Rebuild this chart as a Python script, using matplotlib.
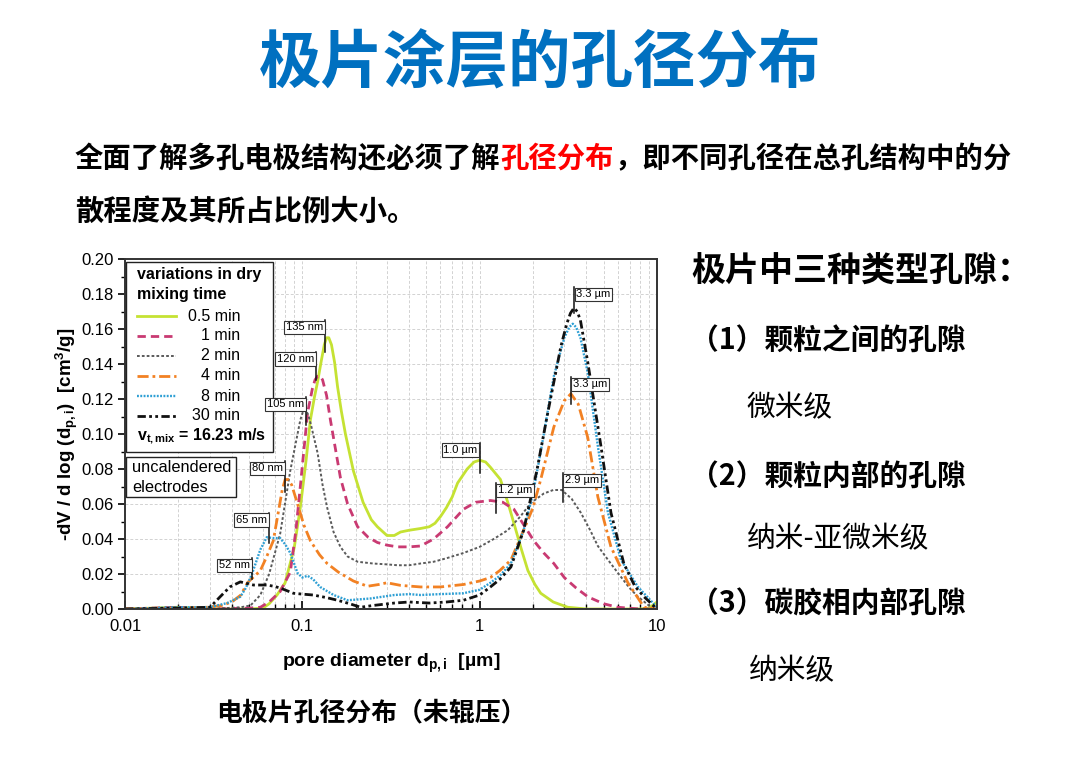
import matplotlib
matplotlib.use("Agg")
import matplotlib.pyplot as plt
from matplotlib.lines import Line2D
from matplotlib.patches import Rectangle
from matplotlib.ticker import LogLocator, MultipleLocator, FuncFormatter

plt.rcParams['font.family'] = ['Liberation Sans', 'DejaVu Sans']
plt.rcParams['mathtext.fontset'] = 'custom'
plt.rcParams['mathtext.rm'] = 'Liberation Sans'
plt.rcParams['mathtext.it'] = 'Liberation Sans:italic'
plt.rcParams['mathtext.bf'] = 'Liberation Sans:bold'
CJK = ['Noto Sans CJK SC', 'DejaVu Sans']

# ---------------- data (pore diameter in µm, -dV/dlog(d) in cm3/g) ----------------
x_05 = [0.01, 0.02, 0.03, 0.05, 0.06, 0.065, 0.072, 0.08, 0.09, 0.0974, 0.105, 0.111, 0.117,
        0.122, 0.128, 0.133, 0.137, 0.141, 0.146, 0.152, 0.158, 0.166, 0.175, 0.194, 0.22,
        0.245, 0.265, 0.30, 0.33, 0.358, 0.40, 0.464, 0.52, 0.56, 0.603, 0.65, 0.70, 0.751,
        0.85, 0.93, 1.0, 1.08, 1.15, 1.31, 1.45, 1.56, 1.72, 1.87, 2.05, 2.21, 2.6, 3.14, 4.0,
        6.0, 8.0, 9.0, 10.0]
y_05 = [0, 0.001, 0, 0, 0.0005, 0.003, 0.008, 0.015, 0.035, 0.058, 0.085, 0.108, 0.121,
        0.130, 0.142, 0.151, 0.155, 0.155, 0.151, 0.141, 0.127, 0.113, 0.100, 0.079, 0.061,
        0.051, 0.047, 0.042, 0.042, 0.044, 0.045, 0.046, 0.047, 0.049, 0.053, 0.058, 0.064,
        0.072, 0.080, 0.084, 0.085, 0.084, 0.081, 0.074, 0.060, 0.049, 0.034, 0.022, 0.014,
        0.009, 0.004, 0.001, 0, 0, 0, 0.0005, 0.004]

x_1 = [0.01, 0.02, 0.03, 0.05, 0.058, 0.065, 0.075, 0.0855, 0.092, 0.0974, 0.103, 0.107, 0.114,
       0.118, 0.122, 0.126, 0.13, 0.137, 0.144, 0.154, 0.164, 0.18, 0.205, 0.235, 0.265, 0.30,
       0.344, 0.40, 0.464, 0.55, 0.659, 0.81, 0.95, 1.15, 1.35, 1.56, 1.8, 2.02, 2.3, 2.62,
       3.0, 3.5, 4.07, 5.0, 6.0, 8.0, 10.0]
y_1 = [0, 0.001, 0, 0.0005, 0.001, 0.004, 0.010, 0.021, 0.045, 0.070, 0.095, 0.112, 0.126,
       0.131, 0.133, 0.133, 0.131, 0.122, 0.108, 0.091, 0.075, 0.060, 0.047, 0.041, 0.038,
       0.0365, 0.0355, 0.0355, 0.036, 0.040, 0.047, 0.057, 0.061, 0.062, 0.061, 0.057, 0.047,
       0.039, 0.032, 0.026, 0.018, 0.012, 0.007, 0.003, 0.001, 0, 0]

x_2 = [0.01, 0.02, 0.03, 0.045, 0.051, 0.058, 0.065, 0.075, 0.0855, 0.0974, 0.101, 0.104, 0.108,
       0.112, 0.122, 0.13, 0.138, 0.15, 0.164, 0.18, 0.205, 0.25, 0.30, 0.344, 0.40, 0.464,
       0.55, 0.65, 0.81, 1.0, 1.2, 1.44, 1.7, 1.94, 2.3, 2.6, 2.9, 3.3, 3.72, 4.2, 4.64, 5.3,
       6.03, 7.0, 7.81, 9.0, 10.0]
y_2 = [0, 0.001, 0, 0.001, 0.002, 0.008, 0.020, 0.043, 0.079, 0.108, 0.113, 0.114, 0.111,
       0.105, 0.089, 0.071, 0.058, 0.044, 0.0355, 0.030, 0.027, 0.026, 0.0255, 0.025, 0.025,
       0.026, 0.027, 0.029, 0.032, 0.0355, 0.040, 0.045, 0.053, 0.0605, 0.066, 0.068, 0.068,
       0.063, 0.055, 0.045, 0.036, 0.028, 0.0205, 0.012, 0.007, 0.002, 0]

x_4 = [0.01, 0.02, 0.029, 0.035, 0.04, 0.045, 0.049, 0.054, 0.058, 0.063, 0.0686, 0.074, 0.077,
       0.080, 0.083, 0.087, 0.094, 0.102, 0.111, 0.125, 0.138, 0.16, 0.194, 0.233, 0.27, 0.30,
       0.358, 0.464, 0.60, 0.81, 1.0, 1.15, 1.3, 1.5, 1.77, 2.0, 2.21, 2.62, 3.0, 3.27, 3.6,
       4.07, 4.64, 5.5, 6.85, 8.45, 10.0]
y_4 = [0, 0.0005, 0.001, 0.002, 0.004, 0.008, 0.015, 0.019, 0.022, 0.030, 0.039, 0.058, 0.068,
       0.074, 0.074, 0.071, 0.060, 0.048, 0.039, 0.031, 0.026, 0.021, 0.016, 0.013, 0.014,
       0.015, 0.0135, 0.0126, 0.0126, 0.014, 0.016, 0.018, 0.022, 0.028, 0.045, 0.058, 0.074,
       0.104, 0.119, 0.123, 0.117, 0.098, 0.064, 0.0355, 0.015, 0.001, 0]

x_8 = [0.01, 0.02, 0.03, 0.0377, 0.0447, 0.048, 0.052, 0.058, 0.063, 0.069, 0.075, 0.08, 0.0855,
       0.094, 0.1, 0.107, 0.115, 0.126, 0.15, 0.18, 0.242, 0.33, 0.40, 0.464, 0.60, 0.81, 1.0,
       1.15, 1.3, 1.5, 1.77, 2.0, 2.21, 2.62, 3.0, 3.2, 3.35, 3.5, 3.7, 4.07, 4.64, 5.29, 6.27,
       7.81, 10.0]
y_8 = [0, 0.001, 0.001, 0.0034, 0.007, 0.012, 0.020, 0.034, 0.041, 0.0405, 0.0405, 0.037, 0.032,
       0.0205, 0.018, 0.019, 0.017, 0.0126, 0.008, 0.005, 0.006, 0.008, 0.0085, 0.008, 0.0085,
       0.009, 0.011, 0.015, 0.019, 0.026, 0.045, 0.066, 0.090, 0.133, 0.155, 0.161, 0.163,
       0.161, 0.155, 0.135, 0.093, 0.055, 0.028, 0.0126, 0.001]

x_30 = [0.01, 0.02, 0.0302, 0.0344, 0.039, 0.0447, 0.049, 0.053, 0.058, 0.063, 0.069, 0.075,
        0.089, 0.1, 0.115, 0.137, 0.158, 0.185, 0.213, 0.25, 0.33, 0.40, 0.52, 0.65, 0.81, 1.0,
        1.15, 1.3, 1.5, 1.77, 2.1, 2.42, 2.87, 3.1, 3.25, 3.4, 3.55, 3.7, 4.07, 4.83, 5.5, 6.5,
        7.5, 8.45, 10.0]
y_30 = [0, 0.0005, 0.001, 0.007, 0.0126, 0.0155, 0.0145, 0.0137, 0.0137, 0.0137, 0.013, 0.012,
        0.009, 0.0085, 0.008, 0.0065, 0.005, 0.003, 0.001, 0.002, 0.0034, 0.004, 0.0034, 0.004,
        0.005, 0.008, 0.0126, 0.017, 0.024, 0.045, 0.079, 0.112, 0.150, 0.163, 0.169, 0.172,
        0.170, 0.165, 0.141, 0.093, 0.055, 0.026, 0.013, 0.007, 0]

series_labels = ['0.5 min', '1 min', '2 min', '4 min', '8 min', '30 min']
series_x = [x_05, x_1, x_2, x_4, x_8, x_30]
series_y = [y_05, y_1, y_2, y_4, y_8, y_30]

# peak annotations: label, x position (µm), top of marker, bottom of marker, box side
peak_labels = ['135 nm', '120 nm', '105 nm', '80 nm', '65 nm', '52 nm',
               '1.0 µm', '1.2 µm', '2.9 µm', '3.3 µm', '3.3 µm']
peak_x = [0.135, 0.12, 0.105, 0.08, 0.065, 0.052, 1.0, 1.23, 2.94, 3.41, 3.27]
peak_top = [0.165, 0.147, 0.121, 0.0846, 0.055, 0.029, 0.095, 0.072, 0.0777, 0.184, 0.1326]
peak_bot = [0.147, 0.131, 0.105, 0.067, 0.0377, 0.017, 0.078, 0.055, 0.061, 0.169, 0.117]
peak_side = ['left'] * 7 + ['right'] * 4

x_ticks = [0.01, 0.1, 1, 10]
x_ticklabels = ['0.01', '0.1', '1', '10']

# ---------------- styles ----------------
styles = [
    dict(color='#c5e233', lw=2.0, ls='-'),
    dict(color='#c93a72', lw=2.0, dashes=(3.0, 1.8)),
    dict(color='#5a5a5a', lw=1.4, dashes=(1.4, 1.1)),
    dict(color='#f28123', lw=2.0, dashes=(4.0, 1.4, 1.0, 1.4)),
    dict(color='#2e9fd4', lw=1.7, dashes=(0.8, 0.6)),
    dict(color='#111111', lw=2.0, dashes=(3.0, 1.2, 1.0, 1.2, 1.0, 1.2)),
]

W, H = 1080, 764
fig = plt.figure(figsize=(W / 100, H / 100), dpi=100)
fig.patch.set_facecolor('white')

def fx(px):
    return px / W

def fy(py):
    return 1 - py / H

ax = fig.add_axes([fx(125), fy(609), fx(657) - fx(125), fy(259) - fy(609)])
lines = []
for xs, ys, st, lab in zip(series_x, series_y, styles, series_labels):
    ln, = ax.plot(xs, ys, label=lab, **st)
    lines.append(ln)

ax.set_xscale('log')
ax.set_xlim(0.01, 10)
ax.set_ylim(0, 0.2)
ax.set_xticks(x_ticks)
ax.set_xticklabels(x_ticklabels)
ax.xaxis.set_minor_locator(LogLocator(base=10, subs=range(2, 10)))
ax.xaxis.set_minor_formatter(FuncFormatter(lambda v, p: ''))
ax.yaxis.set_major_locator(MultipleLocator(0.02))
ax.yaxis.set_minor_locator(MultipleLocator(0.01))
ax.yaxis.set_major_formatter(FuncFormatter(lambda v, p: f'{v:.2f}'))
ax.grid(True, which='both', axis='x', color='#d2d2d2', ls=(0, (3, 2)), lw=0.7)
ax.grid(True, which='major', axis='y', color='#d2d2d2', ls=(0, (3, 2)), lw=0.7)
ax.set_axisbelow(True)
for sp in ax.spines.values():
    sp.set_color('#333333')
    sp.set_linewidth(1.4)
ax.tick_params(axis='y', which='major', direction='out', length=5, width=1.2, labelsize=12, pad=3)
ax.tick_params(axis='y', which='minor', direction='out', length=3, width=1.0)
ax.tick_params(axis='x', which='major', direction='in', length=6, width=1.2, labelsize=12, pad=7)
ax.tick_params(axis='x', which='minor', direction='in', length=3.5, width=1.0)

ax.set_ylabel(r'-dV / d log (d$_\mathbf{p,i}$)  [cm$^\mathbf{3}$/g]', fontsize=13.5,
              fontweight='bold', labelpad=1)
ax.set_xlabel(r'pore diameter d$_\mathbf{p,i}$  [µm]', fontsize=14, fontweight='bold',
              labelpad=13)

# legend box (figure pixel positions, drawn inside the axes so the peak labels sit on top)
tf = fig.transFigure
ax.add_patch(Rectangle((fx(126), fy(452)), fx(273) - fx(126), fy(262) - fy(452),
                       transform=tf, fc='white', ec='#222222', lw=1.0, zorder=5, clip_on=False))
ax.text(fx(137), fy(274), 'variations in dry', transform=tf, fontsize=11.5, fontweight='bold',
        va='center', zorder=6)
ax.text(fx(137), fy(295), 'mixing time', transform=tf, fontsize=11.5, fontweight='bold',
        va='center', zorder=6)
for i, (ln, lab) in enumerate(zip(lines, series_labels)):
    yy = fy(316 + 20 * i)
    seg = Line2D([fx(137), fx(176)], [yy, yy], transform=tf, color=ln.get_color(),
                 lw=ln.get_linewidth(), zorder=6, clip_on=False)
    if ln._unscaled_dash_pattern[1]:
        seg.set_dashes(ln._unscaled_dash_pattern[1])
    ax.add_line(seg)
    ax.text(fx(240), yy, lab, transform=tf, fontsize=11.5, ha='right', va='center', zorder=6)
ax.text(fx(137), fy(436), r'v$_\mathbf{t,mix}$ = 16.23 m/s', transform=tf, fontsize=11.5,
        fontweight='bold', va='center', zorder=6)

ax.add_patch(Rectangle((fx(126), fy(497)), fx(236) - fx(126), fy(457) - fy(497),
                       transform=tf, fc='white', ec='#222222', lw=1.0, zorder=5, clip_on=False))
ax.text(fx(132), fy(468), 'uncalendered', transform=tf, fontsize=11.8, va='center', zorder=6)
ax.text(fx(132), fy(487), 'electrodes', transform=tf, fontsize=11.8, va='center', zorder=6)

# peak markers
for lab, px_, yt, yb, side in zip(peak_labels, peak_x, peak_top, peak_bot, peak_side):
    ax.plot([px_, px_], [yb, yt], color='#111111', lw=1.1, zorder=7)
    dx = -1.5 if side == 'left' else 1.5
    ax.annotate(lab, xy=(px_, yt), xytext=(dx, -1.6), textcoords='offset points',
                ha='right' if side == 'left' else 'left', va='top', fontsize=8,
                bbox=dict(boxstyle='square,pad=0.15', fc='white', ec='#333333', lw=0.8),
                zorder=8)

# ---------------- slide text ----------------
axt = fig.add_axes([0, 0, 1, 1], zorder=-1)
axt.axis('off')
axt.set_xlim(0, 1)
axt.set_ylim(0, 1)

fig.text(0.5, fy(64), '极片涂层的孔径分布', family=CJK, fontsize=45, fontweight='bold',
         color='#0070c0', ha='center', va='center')

t1 = axt.text(fx(75), fy(159), '全面了解多孔电极结构还必须了解', family=CJK, fontsize=20.4,
              fontweight='bold', va='center', ha='left')
t2 = axt.annotate('孔径分布', xy=(1, 0.5), xycoords=t1, va='center', ha='left', family=CJK,
                  fontsize=20.4, fontweight='bold', color='#ff0000')
axt.annotate('，即不同孔径在总孔结构中的分', xy=(1, 0.5), xycoords=t2, va='center', ha='left',
             family=CJK, fontsize=20.4, fontweight='bold', color='black')
axt.text(fx(75), fy(213), '散程度及其所占比例大小。', family=CJK, fontsize=20.4,
         fontweight='bold', va='center', ha='left')

fig.text(fx(691), fy(270), '极片中三种类型孔隙：', family=CJK, fontsize=24.5, fontweight='bold',
         va='center')
right_items = [('（1）颗粒之间的孔隙', 341, 'bold', 690),
               ('微米级', 408, 'normal', 746),
               ('（2）颗粒内部的孔隙', 476, 'bold', 690),
               ('纳米-亚微米级', 539, 'normal', 747),
               ('（3）碳胶相内部孔隙', 604, 'bold', 690),
               ('纳米级', 671, 'normal', 749)]
for txt, py, wt, px in right_items:
    fig.text(fx(px), fy(py), txt, family=CJK, fontsize=20.7, fontweight=wt, va='center')

fig.text(fx(371), fy(713), '电极片孔径分布（未辊压）', family=CJK, fontsize=18.6,
         fontweight='bold', ha='center', va='center')

fig.savefig('out.png', dpi=100)
